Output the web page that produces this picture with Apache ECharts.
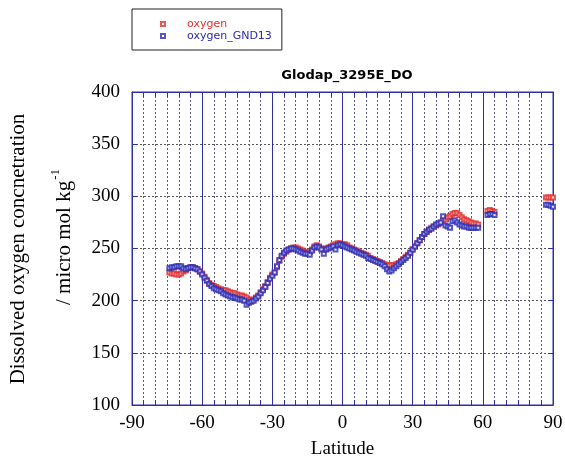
<!DOCTYPE html>
<html>
<head>
  <meta charset="UTF-8">
  <title>Glodap_3295E_DO</title>
  <script src="https://cdn.jsdelivr.net/npm/echarts@6/dist/echarts.min.js"></script>
  <style>
    * { margin: 0; padding: 0; }
    body { background: #fff; }
    #chart { width: 565px; height: 457px; }
  </style>
</head>
<body>
  <div id="chart"></div>
  <script>
    // latitude / oxygen values
    const latMain = [-74, -73, -72, -71, -70, -69, -68, -67, -66, -65, -64, -63, -62, -61, -60,
      -59, -58, -57, -56, -55, -54, -53, -52, -51, -50, -49, -48, -47, -46, -45, -44, -43, -42, -41, -40,
      -39, -38, -37, -36, -35, -34, -33, -32, -31, -30, -29, -28, -27, -26, -25, -24, -23, -22, -21, -20,
      -19, -18, -17, -16, -15, -14, -13, -12, -11, -10, -9, -8, -7, -6, -5, -4, -3, -2, -1, 0,
      1, 2, 3, 4, 5, 6, 7, 8, 9, 10, 11, 12, 13, 14, 15, 16, 17, 18, 19, 20,
      21, 22, 23, 24, 25, 26, 27, 28, 29, 30, 31, 32, 33, 34, 35, 36, 37, 38, 39, 40,
      41, 42, 43, 44, 45, 46, 47, 48, 49, 50, 51, 52, 53, 54, 55, 56, 57, 58,
      62, 63, 64, 65, 87, 88, 89, 90];

    const oxygen = [227, 226, 226, 225, 225, 226, 228, 229, 231, 232, 232, 231, 230, 228, 226,
      223, 220, 217, 215, 214, 213, 212, 211, 210, 210, 209, 208, 207, 207, 206, 205, 205, 204, 203, 201,
      200, 201, 203, 205, 208, 211, 214, 218, 222, 225, 227, 232, 238, 242, 245, 247, 249, 250, 251, 251,
      250, 249, 248, 247, 246, 247, 249, 252, 253, 252, 250, 249, 250, 251, 252, 253, 254, 255, 255, 254,
      254, 253, 251, 250, 249, 248, 247, 246, 245, 244, 243, 241, 240, 239, 238, 237, 236, 235, 234, 234,
      234, 234, 235, 236, 238, 240, 242, 244, 246, 249, 252, 255, 258, 261, 264, 266, 268, 270, 271, 272,
      273, 275, 277, 278, 280, 281, 283, 284, 284, 282, 280, 278, 277, 276, 275, 274, 274, 273,
      286, 287, 286, 285, 299, 299, 299, 299];

    const oxygenGND13 = [231, 232, 232, 233, 233, 233, 231, 230, 231, 232, 232, 231, 230, 228, 225,
      222, 219, 216, 214, 212, 211, 210, 209, 207, 206, 205, 204, 203, 203, 202, 201, 201, 200, 196, 198,
      199, 200, 202, 204, 207, 210, 213, 217, 221, 224, 227, 233, 239, 243, 246, 248, 249, 250, 250, 249,
      248, 247, 246, 245, 245, 244, 248, 251, 252, 251, 249, 245, 249, 250, 251, 252, 249, 253, 254, 253,
      252, 251, 250, 249, 248, 247, 246, 245, 244, 243, 241, 240, 239, 238, 237, 236, 235, 233, 230, 228,
      229, 231, 233, 235, 237, 239, 241, 243, 246, 249, 252, 255, 258, 261, 264, 266, 268, 269, 271, 273,
      274, 275, 281, 272, 271, 270, 276, 277, 275, 273, 272, 271, 271, 270, 270, 270, 270, 270,
      282, 283, 283, 282, 292, 292, 291, 290];

    const seriesNames = ['oxygen', 'oxygen_GND13'];
    const xTicks = [-90, -60, -30, 0, 30, 60, 90];

    const redColor = '#e0302c';
    const blueColor = '#2a2ab4';
    const axisBlue = '#2e2ea8';

    const chart = echarts.init(document.getElementById('chart'));

    const serif = '"Liberation Serif", "Times New Roman", serif';

    const option = {
      animation: false,
      title: {
        text: 'Glodap_3295E_DO',
        left: 342,
        textAlign: 'center',
        top: 64,
        textStyle: { fontFamily: '"DejaVu Sans", sans-serif', fontWeight: 'bold', fontSize: 13, color: '#000' }
      },
      legend: {
        orient: 'vertical',
        left: 132,
        top: 9,
        padding: [9, 10, 8, 28],
        itemGap: 0,
        itemWidth: 4,
        itemHeight: 4,
        borderColor: '#222',
        borderWidth: 1,
        data: [
          { name: seriesNames[0], textStyle: { color: redColor } },
          { name: seriesNames[1], textStyle: { color: blueColor } }
        ],
        textStyle: {
          fontFamily: '"DejaVu Sans", sans-serif',
          fontSize: 11,
          lineHeight: 12,
          padding: [0, 0, 0, 17]
        }
      },
      grid: {
        left: 132, right: 12, top: 92, bottom: 52,
        outerBoundsMode: 'none',
        show: true, borderColor: axisBlue, borderWidth: 1, backgroundColor: '#fff'
      },
      xAxis: [{
        type: 'value',
        min: -90, max: 90, interval: 30,
        axisLine: { show: true, onZero: false, lineStyle: { color: axisBlue, width: 1 } },
        axisTick: { show: true, inside: true, length: 5, lineStyle: { color: axisBlue } },
        minorTick: { show: true, splitNumber: 6, length: 5, lineStyle: { color: axisBlue } },
        axisLabel: {
          margin: 9,
          color: '#000',
          fontFamily: serif,
          fontSize: 19,
          formatter: v => xTicks.includes(v) ? String(v) : ''
        },
        splitLine: { show: true, lineStyle: { color: axisBlue, width: 1, type: 'solid' } },
        minorSplitLine: { show: true, lineStyle: { color: '#5a5a8a', width: 1, type: [2, 2] } },
        name: 'Latitude',
        nameLocation: 'middle',
        nameGap: 35,
        nameTextStyle: { fontFamily: serif, fontSize: 19, color: '#000' }
      }, {
        type: 'value',
        position: 'top',
        min: -90, max: 90, interval: 30,
        axisLine: { show: true, onZero: false, lineStyle: { color: axisBlue } },
        axisTick: { show: true, inside: true, length: 5, lineStyle: { color: axisBlue } },
        minorTick: { show: true, splitNumber: 6, length: 5, lineStyle: { color: axisBlue } },
        axisLabel: { show: false },
        splitLine: { show: false }
      }],
      yAxis: [{
        type: 'value',
        min: 100, max: 400, interval: 50,
        axisLine: { show: true, onZero: false, lineStyle: { color: axisBlue, width: 1 } },
        axisTick: { show: true, inside: true, length: 5, lineStyle: { color: axisBlue } },
        axisLabel: { margin: 12, color: '#000', fontFamily: serif, fontSize: 19 },
        splitLine: { show: true, lineStyle: { color: '#555', width: 1, type: [2, 2] } }
      }, {
        type: 'value',
        position: 'right',
        min: 100, max: 400, interval: 50,
        axisLine: { show: true, onZero: false, lineStyle: { color: axisBlue } },
        axisTick: { show: true, inside: true, length: 5, lineStyle: { color: axisBlue } },
        axisLabel: { show: false },
        splitLine: { show: false }
      }],
      graphic: [{
        type: 'text',
        x: 18, y: 249,
        rotation: Math.PI / 2,
        style: {
          text: 'Dissolved oxygen concnetration',
          font: '21px ' + serif,
          fill: '#000',
          textAlign: 'center',
          textVerticalAlign: 'middle'
        }
      }, {
        type: 'text',
        x: 62, y: 237,
        rotation: Math.PI / 2,
        style: {
          text: '{m|/ micro mol kg}{s|-1}',
          textAlign: 'center',
          textVerticalAlign: 'middle',
          rich: {
            m: { font: '21px ' + serif, fill: '#000', lineHeight: 26, verticalAlign: 'bottom' },
            s: { font: '13px ' + serif, fill: '#000', lineHeight: 26, verticalAlign: 'top', padding: [0, 0, 12, 1] }
          }
        }
      }],
      series: [{
        name: seriesNames[0],
        type: 'scatter',
        symbol: 'emptyRect',
        symbolSize: 4,
        itemStyle: { color: redColor, borderWidth: 1 },
        data: latMain.map((lat, i) => [lat, oxygen[i]])
      }, {
        name: seriesNames[1],
        type: 'scatter',
        symbol: 'emptyRect',
        symbolSize: 4,
        itemStyle: { color: blueColor, borderWidth: 1 },
        data: latMain.map((lat, i) => [lat, oxygenGND13[i]])
      }]
    };

    chart.setOption(option);
  </script>
</body>
</html>
